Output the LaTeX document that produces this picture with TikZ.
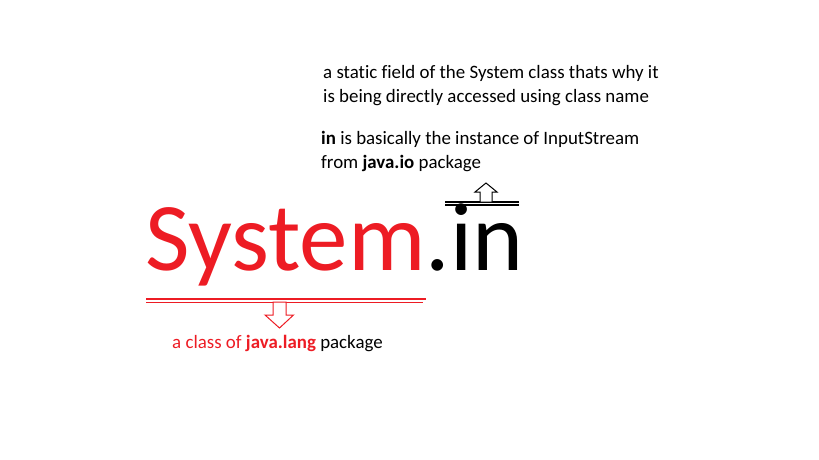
\documentclass[tikz,border=0pt]{standalone}
\usepackage{fontspec}
\setmainfont{Carlito}[Ligatures={NoCommon}]
\usetikzlibrary{positioning,calc}
\usepackage{xcolor}
\definecolor{paintred}{HTML}{ED1C24}
\tikzset{
  note/.style={inner sep=0pt,anchor=base west,font=\fontsize{18.9}{23.5}\selectfont,align=left},
  big/.style={inner sep=0pt,anchor=base west,font=\fontsize{97}{97}\selectfont},
  rule/.style={line width=1.2pt},
  blockarr/.style={line width=1pt,fill=white,line join=miter}
}
\begin{document}
\begin{tikzpicture}[x=1pt,y=-1pt]
    \useasboundingbox (0,0) rectangle (819,460);
    \node[big] (sys) at (145,270) {\textcolor{paintred}{System}.in};
    \node[note] (field) at (323,102) {a static field of the System class thats why it\\is being directly accessed using class name};
    \node[note] (inst) at (321,168) {\textbf{in} is basically the instance of InputStream\\from \textbf{java.io} package};
    \node[note,text=paintred] (cls) at (172,348) {a class of \textbf{java.lang} \textcolor{black}{package}};
    % double rules
    \coordinate (rl) at (146,299);
    \coordinate (rr) at (426,299);
    \draw[rule,draw=paintred] (rl) -- (rr) ($(rl)+(0,3.5)$) -- ($(rr)+(-3,3.5)$);
    \coordinate (bl) at (445,202);
    \coordinate (br) at (519,202);
    \draw[rule] (bl) -- (br) ($(bl)+(0,3)$) -- ($(br)+(0,3)$);
    % block arrows
    \coordinate (dn) at (279.5,302);
    \draw[blockarr,draw=paintred] ($(dn)+(-6.5,0)$) -- ++(0,13) -- ++(-8,0) -- ($(dn)+(0,26)$) -- ($(dn)+(14,13)$) -- ++(-7.5,0) -- ++(0,-13) -- cycle;
    \coordinate (up) at (486,202);
    \draw[blockarr] ($(up)+(-6,0)$) -- ++(0,-10) -- ++(-5,0) -- ($(up)+(0,-19)$) -- ($(up)+(11,-10)$) -- ++(-5,0) -- ++(0,10) -- cycle;
  \end{tikzpicture}
\end{document}
